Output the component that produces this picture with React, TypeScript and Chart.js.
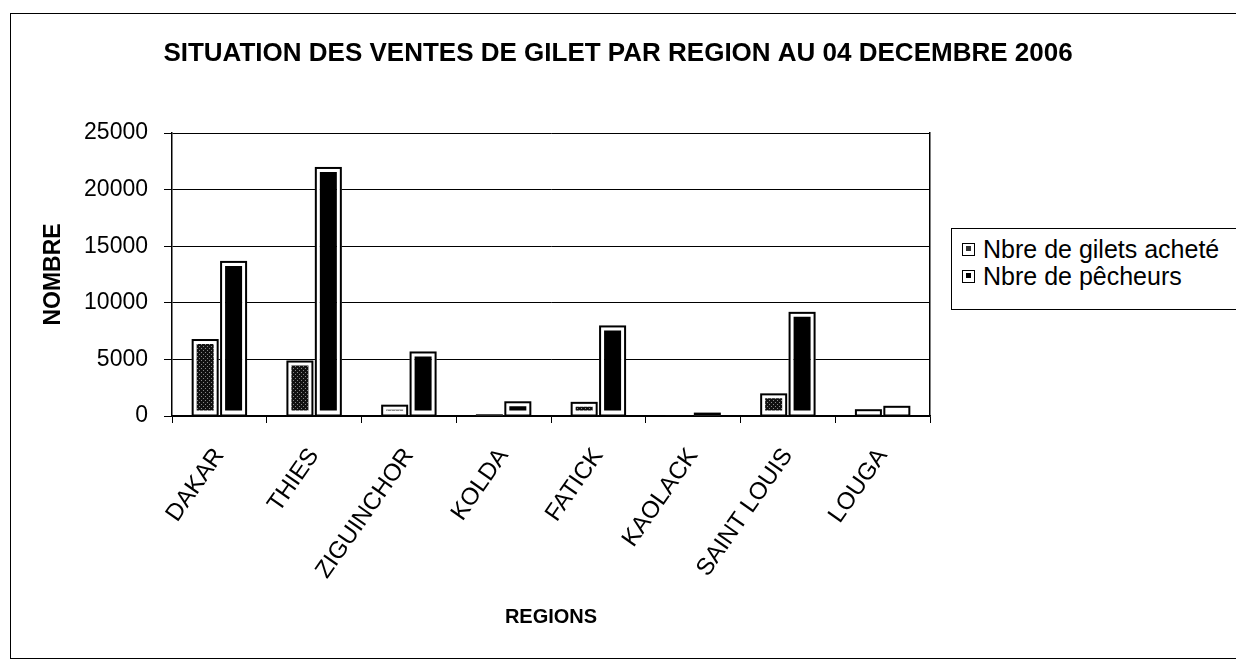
import React, { useEffect, useRef } from "react";
import { Chart, registerables } from "chart.js";

Chart.register(...registerables);

const categories = ["DAKAR", "THIES", "ZIGUINCHOR", "KOLDA", "FATICK", "KAOLACK", "SAINT LOUIS", "LOUGA"];
const giletsAchetes = [6800, 4900, 1000, 150, 1250, 60, 2000, 600];
const pecheurs = [13700, 22000, 5700, 1300, 8000, 300, 9200, 900];
const yTicks = [0, 5000, 10000, 15000, 20000, 25000];
const seriesNames = ["Nbre de gilets acheté", "Nbre de pêcheurs"];
const titleText = "SITUATION DES VENTES DE GILET PAR REGION AU 04 DECEMBRE 2006";

const FONT = "'Liberation Sans', Arial, sans-serif";

function makePattern(): CanvasPattern | string {
  const c = document.createElement("canvas");
  c.width = 4;
  c.height = 4;
  const g = c.getContext("2d");
  if (!g) return "#333";
  g.fillStyle = "#111";
  g.fillRect(0, 0, 4, 4);
  g.fillStyle = "#888";
  g.fillRect(1, 0, 1, 1);
  g.fillRect(3, 2, 1, 1);
  const p = g.createPattern(c, "repeat");
  return p || "#333";
}

const outlinePlugin = {
  id: "barOutline",
  afterDatasetsDraw(chart: any) {
    const ctx = chart.ctx;
    ctx.save();
    ctx.strokeStyle = "#000";
    ctx.fillStyle = "#000";
    ctx.lineWidth = 2;
    chart.data.datasets.forEach((_: any, i: number) => {
      const meta = chart.getDatasetMeta(i);
      meta.data.forEach((el: any) => {
        const { x, y, base, width } = el.getProps(["x", "y", "base", "width"], true);
        const top = Math.min(y, base);
        const h = Math.abs(base - y);
        if (h < 3) {
          ctx.fillRect(x - width / 2, top, width, Math.max(h, 1));
        } else {
          ctx.strokeRect(x - width / 2 + 1, top + 1, width - 2, h - 1);
        }
      });
    });
    ctx.restore();
  },
};

export default function App() {
  const ref = useRef<HTMLCanvasElement | null>(null);

  useEffect(() => {
    if (!ref.current) return;
    const pattern = makePattern();
    const chart = new Chart(ref.current, {
      type: "bar",
      data: {
        labels: categories,
        datasets: [
          {
            label: seriesNames[0],
            data: giletsAchetes,
            backgroundColor: pattern as any,
            borderColor: "#fff",
            borderWidth: 5,
            borderSkipped: false,
            categoryPercentage: 0.6,
            barPercentage: 0.95,
          },
          {
            label: seriesNames[1],
            data: pecheurs,
            backgroundColor: "#000",
            borderColor: "#fff",
            borderWidth: 5,
            borderSkipped: false,
            categoryPercentage: 0.6,
            barPercentage: 0.95,
          },
        ],
      },
      options: {
        responsive: false,
        animation: false,
        layout: { padding: 0 },
        plugins: {
          legend: { display: false },
          tooltip: { enabled: false },
          title: {
            display: true,
            text: titleText,
            color: "#000",
            font: { family: FONT, size: 26, weight: "bold", lineHeight: 1.2 },
            padding: { top: 38.4, bottom: 63.4 },
          },
        },
        scales: {
          x: {
            type: "category",
            offset: true,
            grid: {
              display: true,
              drawOnChartArea: false,
              drawTicks: true,
              tickLength: 7,
              offset: true,
              color: "#000",
              lineWidth: 1,
            },
            border: { display: true, color: "#000", width: 1.5 },
            ticks: {
              color: "#000",
              font: { family: FONT, size: 24 },
              minRotation: 55,
              maxRotation: 55,
              autoSkip: false,
              padding: 20,
            },
            title: {
              display: true,
              text: "REGIONS",
              color: "#000",
              font: { family: FONT, size: 20, weight: "bold", lineHeight: 1.2 },
              padding: { top: 0, bottom: 32 },
            },
            afterFit: (s: any) => {
              s.height = 245;
            },
          },
          y: {
            type: "linear",
            position: "left",
            min: 0,
            max: 25000,
            afterBuildTicks: (s: any) => {
              s.ticks = yTicks.map((v) => ({ value: v }));
            },
            grid: {
              color: "#000",
              lineWidth: 1,
              drawTicks: true,
              tickLength: 8,
            },
            border: { display: true, color: "#000", width: 1.5 },
            ticks: {
              color: "#000",
              font: { family: FONT, size: 23 },
              padding: 16,
              callback: (v: any) => String(v),
            },
            title: {
              display: true,
              text: "NOMBRE",
              color: "#000",
              font: { family: FONT, size: 23, weight: "bold", lineHeight: 1.2 },
              padding: { top: 40, bottom: 0 },
            },
            afterFit: (s: any) => {
              s.width = 172;
            },
          },
          yr: {
            type: "linear",
            position: "right",
            display: true,
            grid: { display: false, drawTicks: false },
            ticks: { display: false },
            border: { display: true, color: "#000", width: 1.5 },
            afterFit: (s: any) => {
              s.width = 306;
            },
          },
        },
      },
      plugins: [outlinePlugin],
    } as any);
    return () => chart.destroy();
  }, []);

  const iconStyle: React.CSSProperties = {
    display: "inline-block",
    width: 13,
    height: 13,
    boxSizing: "border-box",
    border: "1.5px solid #000",
    padding: 2.5,
    marginRight: 8,
    background: "#fff",
    verticalAlign: "middle",
    position: "relative",
    top: -2,
  };

  return (
    <div
      style={{
        position: "fixed",
        left: 0,
        top: 0,
        width: 1236,
        height: 661,
        overflow: "hidden",
        background: "#fff",
      }}
    >
      <div
        style={{
          position: "absolute",
          left: 10,
          top: 13,
          width: 1260,
          height: 644,
          border: "1.5px solid #000",
        }}
      />
      <canvas ref={ref} width={1236} height={661} style={{ position: "absolute", left: 0, top: 0 }} />
      <div
        style={{
          position: "absolute",
          left: 951,
          top: 228,
          width: 300,
          height: 80,
          border: "1.5px solid #000",
          background: "#fff",
          fontFamily: FONT,
          fontSize: 25,
          color: "#000",
        }}
      >
        {seriesNames.map((n, i) => (
          <div
            key={n}
            style={{
              position: "absolute",
              left: 10,
              top: i === 0 ? 6 : 33,
              height: 28,
              lineHeight: "28px",
              whiteSpace: "nowrap",
            }}
          >
            <span style={iconStyle}>
              <span style={{ display: "block", width: 5, height: 5, background: i === 0 ? "#333" : "#000" }} />
            </span>
            {n}
          </div>
        ))}
      </div>
    </div>
  );
}
